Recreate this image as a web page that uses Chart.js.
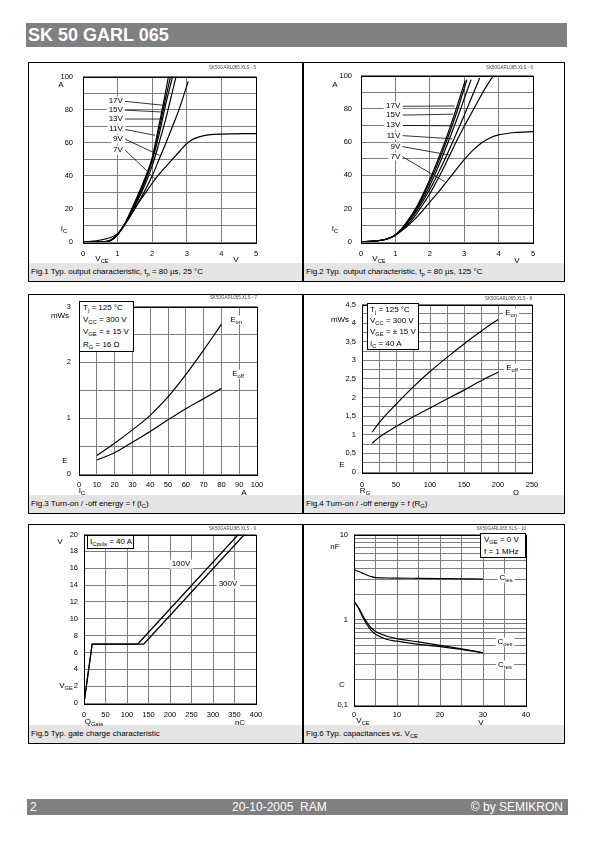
<!DOCTYPE html>
<html>
<head>
<meta charset="utf-8">
<title>SK 50 GARL 065</title>
<script src="https://cdn.jsdelivr.net/npm/chart.js@4.4.1/dist/chart.umd.min.js"></script>
<style>
  body { margin: 0; width: 595px; height: 842px; position: relative; background: #fff;
         font-family: "Liberation Sans", Arial, sans-serif; color: #000; overflow: hidden; }
  .bar { position: absolute; background: #808080; color: #fff; white-space: nowrap; }
  .panel { position: absolute; border: 1px solid #000; box-sizing: border-box; }
  .cap { position: absolute; left: 0; right: 0; bottom: 0; height: 18px; background: #e4e4e4;
         font-size: 8px; line-height: 18px; padding-left: 2px; white-space: nowrap; }
  .t { position: absolute; font-size: 8px; line-height: 1.1; white-space: nowrap; }
  .s { font-size: 72%; position: relative; top: 0.35em; line-height: 0; }
  .w { background: #fff; padding: 0 2px; }
  .box { position: absolute; border: 1px solid #000; background: #fff; box-sizing: border-box;
         font-size: 8px; white-space: nowrap; overflow: hidden; }
  .xls { position: absolute; font-size: 4.5px; color: #444; white-space: nowrap; transform: translate(-100%, -50%); }
  canvas { position: absolute; }
</style>
</head>
<body>
<div class="bar" style="left:26px;top:23px;width:541px;height:24px;font:bold 18px/24px 'Liberation Sans',Arial,sans-serif;padding-left:2px;box-sizing:border-box">SK 50 GARL 065</div>
<div class="bar" style="left:27px;top:799px;width:541px;height:16px;font-size:12px;line-height:16px">
  <span style="position:absolute;left:3px">2</span>
  <span style="position:absolute;left:205px">20-10-2005&nbsp; RAM</span>
  <span style="position:absolute;right:5px">© by SEMIKRON</span>
</div>
<script>
const FONT = '"Liberation Sans", Arial, sans-serif';

// Fig.1  I_C = f(V_CE), 25 °C        points: [V_CE (V), I_C (A)]
const fig1Labels = ['17V', '15V', '13V', '11V', '9V', '7V'];
const fig1Vge17 = [[0,0],[0.6,0.1],[0.8,1],[1,4.5],[1.15,9],[1.3,15],[1.45,22],[1.6,29],[1.8,39],[2,51],[2.2,71],[2.35,86.5],[2.47,100]];
const fig1Vge15 = [[0,0],[0.6,0.1],[0.8,1],[1,4.5],[1.15,9],[1.3,14.5],[1.45,21],[1.6,28],[1.8,38],[2,50],[2.2,68],[2.4,88],[2.53,100]];
const fig1Vge13 = [[0,0],[0.6,0.1],[0.8,1],[1,4.5],[1.15,9],[1.3,14],[1.45,20.5],[1.6,27],[1.8,37],[2,49],[2.2,65],[2.4,84],[2.59,100]];
const fig1Vge11 = [[0,0],[0.6,0.1],[0.8,1],[1,4.5],[1.15,9],[1.3,13.5],[1.45,19.5],[1.6,26],[1.8,35],[2,46],[2.2,60],[2.4,75],[2.55,88],[2.69,100]];
const fig1Vge9  = [[0,0],[0.6,0.1],[0.8,1.2],[1,4.8],[1.15,9],[1.3,13.5],[1.45,18.5],[1.6,24],[1.8,31.5],[2,40],[2.2,50],[2.4,60],[2.6,70.5],[2.8,81.5],[3.04,97]];
const fig1Vge7  = [[0,0],[0.3,0.5],[0.5,1.2],[0.8,2.7],[1,5],[1.15,8.5],[1.4,17],[1.6,23.5],[1.8,29.5],[2,35.5],[2.2,41],[2.5,48],[2.8,55],[3,59.5],[3.2,62.3],[3.5,64.3],[4,65.2],[5,65.5]];
const fig1LeadFrom = [[1.21,85],[1.21,79.7],[1.21,74.3],[1.21,68],[1.21,62.2],[1.21,55.7]];
const fig1LeadTo   = [[2.37,82.5],[2.32,78.5],[2.27,74.3],[2.08,64.5],[2.21,52.4],[2.08,38.2]];

// Fig.2  I_C = f(V_CE), 125 °C
const fig2Labels = ['17V', '15V', '13V', '11V', '9V', '7V'];
const fig2Vge17 = [[0,0],[0.4,0.6],[0.7,1.5],[0.9,3],[1,4.3],[1.2,8.5],[1.4,14],[1.6,20.5],[1.8,28.5],[2,37.5],[2.2,47.5],[2.4,58],[2.6,69.5],[2.8,82],[3.03,97]];
const fig2Vge15 = [[0,0],[0.4,0.6],[0.7,1.5],[0.9,3],[1,4.3],[1.2,8.3],[1.4,13.5],[1.6,19.8],[1.8,27.5],[2,36],[2.2,45.5],[2.4,56],[2.6,67],[2.8,79],[3.08,97.5]];
const fig2Vge13 = [[0,0],[0.4,0.6],[0.7,1.5],[0.9,3],[1,4.2],[1.2,8],[1.4,13],[1.6,19],[1.8,26],[2,34],[2.2,43],[2.4,53],[2.6,63.5],[2.8,74.5],[3,86],[3.2,97.5]];
const fig2Vge11 = [[0,0],[0.4,0.6],[0.7,1.5],[0.9,3],[1,4.2],[1.2,7.8],[1.4,12.5],[1.6,18],[1.8,24.5],[2,31.5],[2.2,39.5],[2.4,48],[2.6,57],[2.8,66.5],[3,76],[3.2,86],[3.45,98.5]];
const fig2Vge9  = [[0,0],[0.4,0.6],[0.7,1.5],[0.9,3],[1,4.2],[1.2,7.5],[1.4,11.5],[1.6,16.5],[1.8,22.5],[2,29],[2.2,36.5],[2.4,44.5],[2.6,53],[2.8,61.5],[3,69.5],[3.2,77],[3.4,84.5],[3.6,92],[3.85,100]];
const fig2Vge7  = [[0,0],[0.4,0.6],[0.7,1.5],[0.9,3],[1,4],[1.2,7],[1.4,10.5],[1.6,14.5],[1.8,19],[2,24],[2.25,30],[2.5,36.5],[2.75,43],[3,49.5],[3.25,55],[3.5,59.5],[3.75,62.5],[4,64.3],[4.5,65.8],[5,66.3]];
const fig2LeadFrom = [[1.2,81.5],[1.2,76.2],[1.2,70],[1.2,63.9],[1.2,57.3],[1.2,51.3]];
const fig2LeadTo   = [[2.72,81.7],[2.67,76.8],[2.63,69.8],[2.65,62],[2.58,52.2],[2.43,36.3]];

// Fig.3  E = f(I_C)
const fig3Ic   = [10, 20, 30, 40, 50, 60, 70, 80];
const fig3Eon  = [0.33, 0.55, 0.79, 1.05, 1.38, 1.78, 2.22, 2.68];
const fig3Eoff = [0.25, 0.38, 0.57, 0.76, 0.97, 1.17, 1.35, 1.53];

// Fig.4  E = f(R_G)
const fig4Rg   = [15, 25, 50, 75, 100, 125, 150, 175, 200];
const fig4Eon  = [1.07, 1.32, 1.82, 2.28, 2.7, 3.08, 3.44, 3.78, 4.1];
const fig4Eoff = [0.77, 0.93, 1.22, 1.48, 1.72, 1.96, 2.2, 2.45, 2.68];

// Fig.5  gate charge
const fig5Q100 = [0, 19, 125, 359];
const fig5V100 = [0, 7, 7, 20];
const fig5Q300 = [0, 19, 139, 373];
const fig5V300 = [0, 7, 7, 20];

// Fig.6  capacitances
const fig6Vce  = [0, 1, 2, 3, 4, 5, 7.5, 10, 15, 20, 25, 30];
const fig6Cies = [3.87, 3.7, 3.52, 3.35, 3.2, 3.12, 3.09, 3.08, 3.06, 3.04, 3.02, 3.0];
const fig6Coes = [1.64, 1.4, 1.13, 0.93, 0.8, 0.73, 0.645, 0.6, 0.55, 0.5, 0.455, 0.41];
const fig6Cres = [1.64, 1.38, 1.08, 0.88, 0.75, 0.675, 0.59, 0.56, 0.515, 0.485, 0.45, 0.41];
const fig6Grid = [0.1,0.2,0.3,0.4,0.5,0.6,0.7,0.8,0.9,1,2,3,4,5,6,7,8,9,10];

// ---- page layout
const panels = [
  { x: 28,  y: 62,  w: 275, h: 220 },
  { x: 303, y: 62,  w: 262, h: 220 },
  { x: 28,  y: 294, w: 275, h: 220 },
  { x: 303, y: 294, w: 262, h: 220 },
  { x: 28,  y: 524, w: 275, h: 220 },
  { x: 303, y: 524, w: 262, h: 220 }
];
const areas = [
  { l: 55, r: 228, t: 9, b: 180 },
  { l: 58, r: 230, t: 9, b: 180 },
  { l: 51, r: 229, t: 7, b: 180 },
  { l: 59, r: 229, t: 8, b: 178 },
  { l: 56, r: 228, t: 8, b: 179 },
  { l: 51, r: 223, t: 8, b: 181 }
];
const captions = [
  'Fig.1 Typ. output characteristic, t<span class="s">p</span> = 80 µs, 25 °C',
  'Fig.2 Typ. output characteristic, t<span class="s">p</span> = 80 µs, 125 °C',
  'Fig.3 Turn-on / -off energy = f (I<span class="s">C</span>)',
  'Fig.4 Turn-on / -off energy = f (R<span class="s">G</span>)',
  'Fig.5 Typ. gate charge characteristic',
  'Fig.6 Typ. capacitances vs. V<span class="s">CE</span>'
];

panels.forEach((p, i) => {
  const d = document.createElement('div');
  d.className = 'panel';
  d.style.cssText = `left:${p.x}px;top:${p.y}px;width:${p.w}px;height:${p.h}px`;
  d.innerHTML = `<div class="cap">${captions[i]}</div>`;
  document.body.appendChild(d);
});

function put(html, x, y, align, cls) {
  const d = document.createElement('div');
  d.className = 't' + (cls ? ' ' + cls : '');
  d.innerHTML = html;
  const tx = align === 'l' ? '0' : align === 'r' ? '-100%' : '-50%';
  d.style.cssText = `left:${x}px;top:${y}px;transform:translate(${tx},-50%)`;
  document.body.appendChild(d);
  return d;
}

function box(html, x, y, w, h, lh, pad) {
  const d = document.createElement('div');
  d.className = 'box';
  d.innerHTML = html;
  d.style.cssText = `left:${x}px;top:${y}px;width:${w}px;height:${h}px;line-height:${lh}px;padding-left:${pad}px`;
  document.body.appendChild(d);
}

const frame = {
  id: 'frame',
  afterDraw(c) {
    const a = c.chartArea, ctx = c.ctx;
    ctx.save();
    ctx.strokeStyle = '#000';
    ctx.lineWidth = 1;
    ctx.strokeRect(Math.round(a.left) + 0.5, Math.round(a.top) + 0.5,
                   Math.round(a.right - a.left), Math.round(a.bottom - a.top));
    ctx.restore();
  }
};

function leaders(from, to) {
  return {
    id: 'leaders',
    afterDatasetsDraw(c) {
      const ctx = c.ctx, x = c.scales.x, y = c.scales.y;
      ctx.save();
      ctx.strokeStyle = '#000';
      ctx.lineWidth = 0.8;
      from.forEach((f, i) => {
        ctx.beginPath();
        ctx.moveTo(x.getPixelForValue(f[0]), y.getPixelForValue(f[1]));
        ctx.lineTo(x.getPixelForValue(to[i][0]), y.getPixelForValue(to[i][1]));
        ctx.stroke();
      });
      ctx.restore();
    }
  };
}

function pairs(pts) { return pts.map(p => ({ x: p[0], y: p[1] })); }
function zip(xs, ys) { return xs.map((v, i) => ({ x: v, y: ys[i] })); }
function curve(data, straight) {
  return { data, showLine: true, borderColor: '#000', borderWidth: 1.2, pointRadius: 0,
           tension: straight ? 0 : 0.4, cubicInterpolationMode: straight ? 'default' : 'monotone' };
}
const comma = v => String(v).replace('.', ',');

function scale(o) {
  return Object.assign({
    grid: { color: '#7d7d7d', lineWidth: 1, drawTicks: false },
    border: { display: false }
  }, o, {
    ticks: Object.assign({ color: '#000', font: { family: FONT, size: 7.5 }, autoSkip: false, maxRotation: 0 }, o.ticks)
  });
}

function chart(i, xs, ys, datasets, extra) {
  const p = panels[i], a = areas[i];
  const W = p.w, H = p.h - 19, YW = 40, XH = 16;
  const cv = document.createElement('canvas');
  cv.width = W; cv.height = H;
  cv.style.left = p.x + 'px';
  cv.style.top = p.y + 'px';
  document.body.appendChild(cv);
  const c = new Chart(cv, {
    type: 'scatter',
    data: { datasets },
    options: {
      responsive: false, animation: false, devicePixelRatio: 1,
      layout: { autoPadding: false, padding: { left: a.l - YW, top: a.t, right: W - a.r, bottom: H - a.b - XH } },
      plugins: { legend: { display: false }, tooltip: { enabled: false } },
      scales: {
        x: Object.assign(scale(xs), { afterFit: s => { s.height = XH; } }),
        y: Object.assign(scale(ys), { afterFit: s => { s.width = YW; } })
      }
    },
    plugins: [frame].concat(extra || [])
  });
  c.px = v => p.x + c.scales.x.getPixelForValue(v);
  c.py = v => p.y + c.scales.y.getPixelForValue(v);
  return c;
}

// ---- Fig.1
const c1 = chart(0,
  { min: 0, max: 5, ticks: { stepSize: 1, padding: 7 } },
  { min: 0, max: 100, ticks: { stepSize: 10, padding: 10, callback: v => v % 20 === 0 ? v : '' } },
  [fig1Vge17, fig1Vge15, fig1Vge13, fig1Vge11, fig1Vge9, fig1Vge7].map(d => curve(pairs(d))),
  [leaders(fig1LeadFrom, fig1LeadTo)]);
fig1Labels.forEach((t, i) => put(t, c1.px(fig1LeadFrom[i][0]), c1.py(fig1LeadFrom[i][1]), 'r', 'w'));

// ---- Fig.2
const c2 = chart(1,
  { min: 0, max: 5, ticks: { stepSize: 1, padding: 7 } },
  { min: 0, max: 100, ticks: { stepSize: 10, padding: 9, callback: v => v % 20 === 0 ? v : '' } },
  [fig2Vge17, fig2Vge15, fig2Vge13, fig2Vge11, fig2Vge9, fig2Vge7].map(d => curve(pairs(d))),
  [leaders(fig2LeadFrom, fig2LeadTo)]);
fig2Labels.forEach((t, i) => put(t, c2.px(fig2LeadFrom[i][0]), c2.py(fig2LeadFrom[i][1]), 'r', 'w'));

// ---- Fig.3
chart(2,
  { min: 0, max: 100, ticks: { stepSize: 10, padding: 6 } },
  { min: 0, max: 3, ticks: { stepSize: 0.5, padding: 8, callback: v => Number.isInteger(v) ? v : '' } },
  [curve(zip(fig3Ic, fig3Eon)), curve(zip(fig3Ic, fig3Eoff))]);

// ---- Fig.4
chart(3,
  { min: 0, max: 250, ticks: { stepSize: 25, padding: 8, callback: v => v % 50 === 0 ? v : '' } },
  { min: 0, max: 4.5, ticks: { stepSize: 0.25, padding: 6, callback: v => (v * 2) % 1 === 0 ? comma(v) : '' } },
  [curve(zip(fig4Rg, fig4Eon)), curve(zip(fig4Rg, fig4Eoff))]);

// ---- Fig.5
chart(4,
  { min: 0, max: 400, ticks: { stepSize: 50, padding: 7 } },
  { min: 0, max: 20, ticks: { stepSize: 2, padding: 6 } },
  [curve(zip(fig5Q100, fig5V100), true), curve(zip(fig5Q300, fig5V300), true)]);

// ---- Fig.6
chart(5,
  { min: 0, max: 40, ticks: { stepSize: 5, padding: 5, callback: v => v % 10 === 0 ? v : '' } },
  { type: 'logarithmic', min: 0.1, max: 10,
    afterBuildTicks: s => { s.ticks = fig6Grid.map(v => ({ value: v })); },
    ticks: { padding: 6, callback: v => [0.1, 1, 10].includes(v) ? comma(v) : '' } },
  [curve(zip(fig6Vce, fig6Cies)), curve(zip(fig6Vce, fig6Coes)), curve(zip(fig6Vce, fig6Cres))]);

// ---- axis names, legends, curve names
put('A', 61, 85); put('I<span class="s">C</span>', 64, 229); put('V<span class="s">CE</span>', 102, 259); put('V', 236, 260);
put('A', 335, 85); put('I<span class="s">C</span>', 335, 229); put('V<span class="s">CE</span>', 379, 259); put('V', 517, 261);
put('mWs', 60, 316); put('E', 65, 461); put('I<span class="s">C</span>', 82, 491); put('A', 244, 493);
put('mWs', 340, 320); put('E', 342, 465); put('R<span class="s">G</span>', 365, 491); put('Ω', 516, 493);
put('V', 60, 542); put('V<span class="s">GE</span>', 66, 686); put('Q<span class="s">Gate</span>', 94, 722); put('nC', 240, 723);
put('nF', 335, 547); put('C', 342, 685); put('V<span class="s">CE</span>', 363, 721); put('V', 481, 723);

box('T<span class="s">j</span> = 125 °C<br>V<span class="s">CC</span> = 300 V<br>V<span class="s">GE</span> = ± 15 V<br>R<span class="s">G</span> = 16 Ω', 79, 301, 55, 51, 12.2, 3);
box('T<span class="s">j</span> = 125 °C<br>V<span class="s">CC</span> = 300 V<br>V<span class="s">GE</span> = ± 15 V<br>I<span class="s">C</span> = 40 A', 367, 303, 52, 47, 11.2, 2);
box('I<span class="s">Cpuls</span> = 40 A', 87, 535, 47, 14, 11.5, 2);
box('V<span class="s">GE</span> = 0 V<br>f = 1 MHz', 480, 533, 46, 25, 11.5, 3);

put('E<span class="s">on</span>', 236, 320, 'c', 'w'); put('E<span class="s">off</span>', 238, 374, 'c', 'w');
put('E<span class="s">on</span>', 511, 313, 'c', 'w'); put('E<span class="s">off</span>', 512, 368, 'c', 'w');
put('100V', 181, 564, 'c', 'w'); put('300V', 228, 584, 'c', 'w');
put('C<span class="s">ies</span>', 506, 578, 'c', 'w'); put('C<span class="s">oes</span>', 505, 642, 'c', 'w'); put('C<span class="s">res</span>', 505, 665, 'c', 'w');

['SK50GARL065.XLS - 5', 'SK50GARL065.XLS - 6', 'SK50GARL065.XLS - 7',
 'SK50GARL065.XLS - 8', 'SK50GARL065.XLS - 9', 'SK50GARL065.XLS - 10'].forEach((t, i) => {
  const d = document.createElement('div');
  d.className = 'xls';
  d.textContent = t;
  d.style.left = (panels[i].x + areas[i].r) + 'px';
  d.style.top = (panels[i].y + areas[i].t - 4) + 'px';
  document.body.appendChild(d);
});
</script>
</body>
</html>
